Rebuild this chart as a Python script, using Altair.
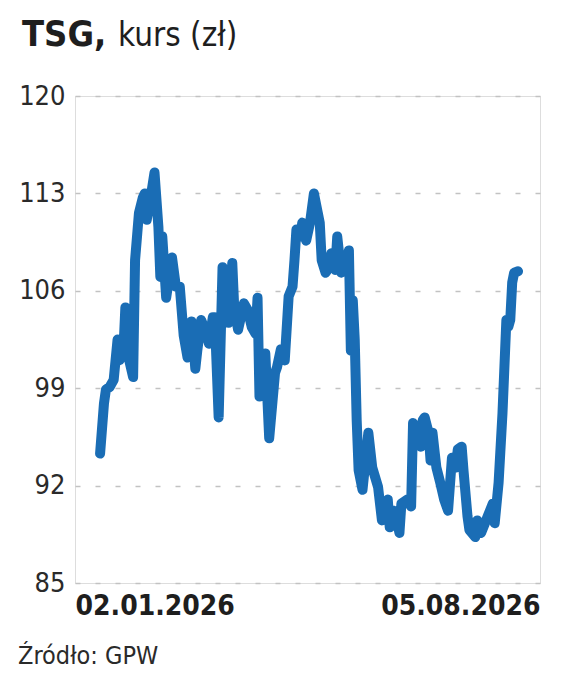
import altair as alt
import pandas as pd

# trading-day offsets from 02.01.2026 and closing prices (zł)
days = [0, 2, 3, 5, 7, 9, 10, 12, 13, 15, 17, 18, 20, 22, 23, 24, 26, 28, 30, 31,
        32, 34, 37, 39, 41, 43, 45, 47, 49, 50, 52, 54, 56, 58, 59, 61, 63, 66, 68, 69,
        71, 74, 76, 78, 80, 81, 82, 85, 87, 90, 91, 93, 95, 97, 99, 100, 101, 103, 104, 106,
        108, 110, 112, 113, 114, 116, 117, 119, 121, 122, 124, 126, 128, 129, 130, 131, 132, 133, 135, 138,
        140, 143, 145, 148, 149, 151, 153, 154, 155, 158, 160, 161, 163, 165, 166, 167, 169, 170, 171, 173,
        175, 177, 179, 181, 183, 184, 186, 187, 189, 190, 193, 194, 196, 198, 200, 202, 203, 205, 207, 209,
        210, 211, 212, 213, 215]
price = [94.3, 97.9, 98.9, 99.1, 99.6, 102.5, 101.0, 101.7, 104.8, 101.0, 99.8, 108.2, 111.6, 112.7, 113.0, 111.1, 112.7, 114.5, 110.6, 107.0,
         109.9, 105.5, 108.4, 106.3, 106.3, 102.8, 101.2, 103.8, 100.4, 101.7, 103.9, 103.2, 102.2, 104.1, 104.1, 96.9, 107.7, 103.7, 108.0, 104.8,
         103.2, 105.1, 104.6, 103.4, 102.9, 105.5, 98.4, 101.5, 95.4, 100.1, 100.5, 101.8, 101.0, 105.6, 106.3, 108.2, 110.4, 109.9, 110.9, 109.6,
         110.9, 113.0, 111.6, 110.9, 108.2, 107.3, 107.5, 108.7, 107.5, 109.9, 107.3, 107.5, 108.9, 101.7, 105.3, 102.5, 96.7, 93.1, 91.7, 95.8,
         93.3, 91.9, 89.5, 91.0, 89.0, 90.2, 89.3, 88.6, 90.7, 91.0, 90.5, 96.5, 96.0, 94.8, 96.7, 96.9, 95.8, 93.8, 95.8, 93.3,
         92.2, 91.0, 90.2, 94.0, 93.3, 94.6, 94.8, 93.0, 89.8, 88.8, 88.3, 89.5, 88.6, 89.3, 90.0, 90.7, 89.3, 92.2, 97.2, 103.9,
         103.4, 103.9, 106.6, 107.3, 107.4]

y_ticks = [85, 92, 99, 106, 113, 120]
x_tick_days = [-12.9, 226.3]
x_tick_labels = ["02.01.2026", "05.08.2026"]
title_bold = "TSG,"
title_rest = "kurs (zł)"
source = "Źródło: GPW"

FONT = "DejaVu Sans Condensed, Roboto, sans-serif"
df = pd.DataFrame({"day": days, "price": price})

line = alt.Chart(df).mark_line(
    color="#1a6db5", strokeWidth=10, strokeCap="round", strokeJoin="round"
).encode(
    x=alt.X("day:Q", scale=alt.Scale(domain=x_tick_days, nice=False, zero=False),
            axis=alt.Axis(values=x_tick_days, title=None, grid=False, domain=False, ticks=False,
                          labelFlush=True, labelFontSize=28, labelFontWeight="bold",
                          labelFont=FONT, labelColor="#1e1e1e", labelPadding=9,
                          labelExpr=f"datum.value < 100 ? '{x_tick_labels[0]}' : '{x_tick_labels[1]}'")),
    y=alt.Y("price:Q", scale=alt.Scale(domain=[85, 120], nice=False, zero=False),
            axis=alt.Axis(values=y_ticks, title=None, grid=True, gridDash=[5, 15], gridColor="#c2c2c2",
                          gridWidth=1.5, domain=False, ticks=False, labelFontSize=27, labelFont=FONT,
                          labelColor="#2a2a2a", labelPadding=10)),
)

t1 = alt.Chart(pd.DataFrame({"t": [title_bold]})).mark_text(
    font=FONT, fontSize=36, fontWeight="bold", align="left", baseline="alphabetic", color="#1e1e1e"
).encode(text="t:N", x=alt.value(-53), y=alt.value(-50))

t2 = alt.Chart(pd.DataFrame({"t": [title_rest]})).mark_text(
    font=FONT, fontSize=33, align="left", baseline="alphabetic", color="#1e1e1e"
).encode(text="t:N", x=alt.value(43), y=alt.value(-50))

src = alt.Chart(pd.DataFrame({"t": [source]})).mark_text(
    font=FONT, fontSize=25, align="left", baseline="alphabetic", color="#2a2a2a"
).encode(text="t:N", x=alt.value(-57), y=alt.value(568))

chart = alt.layer(line, t1, t2, src).properties(
    width=465, height=487,
    autosize=alt.AutoSizeParams(type="none"),
    padding={"left": 67, "top": 88, "right": 16, "bottom": 92},
).configure_view(stroke=None).configure(background="white")

chart.save("out.html", embed_options={"renderer": "svg", "actions": False})
